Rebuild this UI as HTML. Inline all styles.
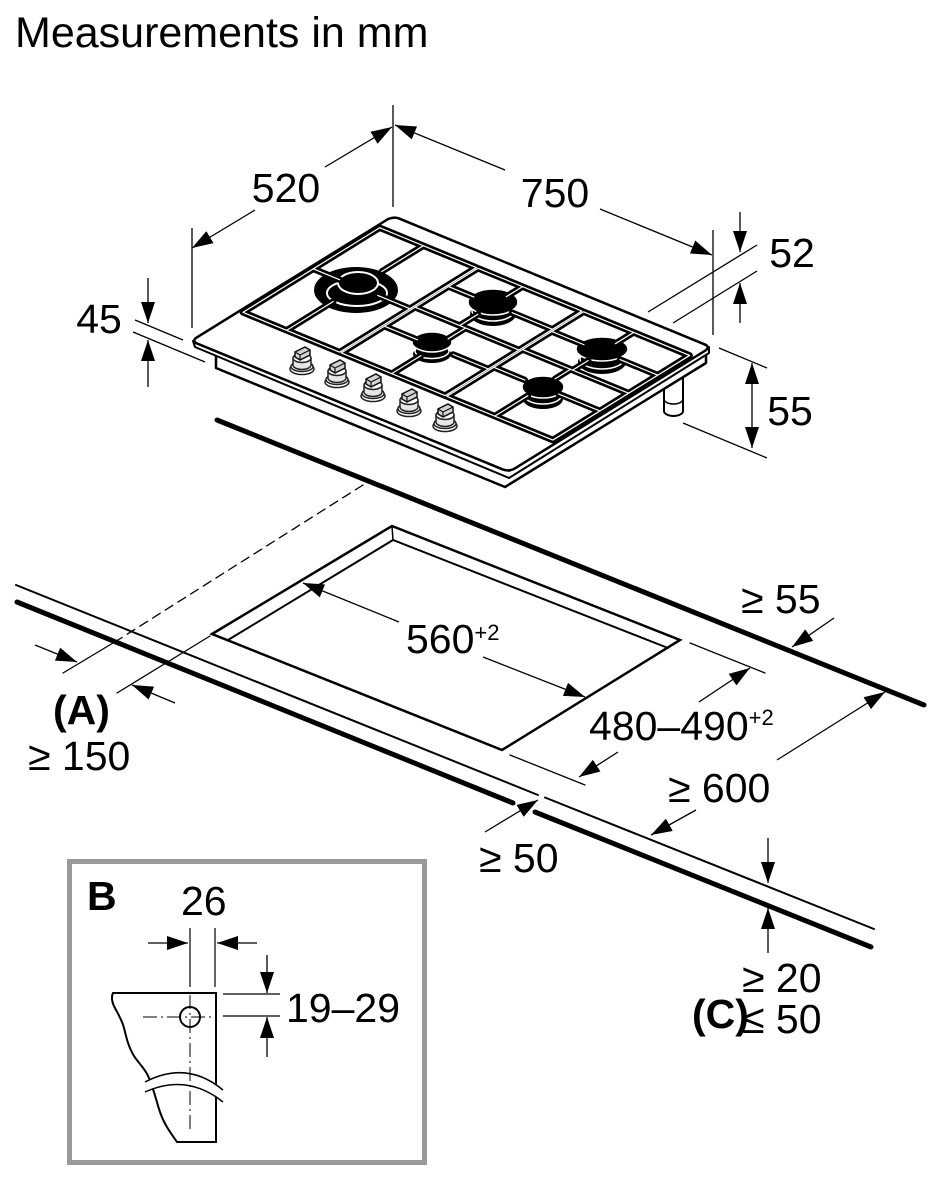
<!DOCTYPE html>
<html><head><meta charset="utf-8"><style>
html,body{margin:0;padding:0;background:#fff}
svg{display:block}
text{font-family:"Liberation Sans",Arial,sans-serif;fill:#000}
</style></head><body>
<svg width="935" height="1200" viewBox="0 0 935 1200" xmlns="http://www.w3.org/2000/svg">
<defs>
<marker id="a" markerUnits="userSpaceOnUse" markerWidth="22" markerHeight="14" refX="21" refY="7" orient="auto-start-reverse"><path d="M0,0 L21,7 L0,14 z" fill="#000"/></marker>
<g id="knob">
 <ellipse cx="0" cy="8" rx="12" ry="5.5" fill="#fff" stroke="#222" stroke-width="1.5"/>
 <ellipse cx="0" cy="5.5" rx="11" ry="5" fill="#fff" stroke="#222" stroke-width="1.5"/>
 <path d="M-9,-3 V4 A9,4.5 0 0 0 9,4 V-3" fill="#e6e6e6" stroke="#222" stroke-width="1.5"/>
 <ellipse cx="0" cy="-3" rx="9" ry="4.5" fill="#fff" stroke="#222" stroke-width="1.5"/>
 <path d="M-7,-4 L-7,-9 L3,-14 L8,-11 L8,-6 L-2,-1 Z" fill="#d4d4d4" stroke="#111" stroke-width="1.5"/>
 <path d="M-7,-9 L-2,-6 L8,-11 M-2,-6 V-1" fill="none" stroke="#111" stroke-width="1.2"/>
</g>
</defs>
<rect width="935" height="1200" fill="#fff"/>
<text x="15" y="47" font-size="43">Measurements in mm</text>

<!-- top dimensions -->
<g stroke="#000" stroke-width="1.3" fill="none">
 <line x1="393" y1="105" x2="393" y2="207"/>
 <line x1="192" y1="228" x2="192" y2="328"/>
 <line x1="325" y1="167" x2="392" y2="127" marker-end="url(#a)"/>
 <line x1="255" y1="210" x2="192" y2="248" marker-end="url(#a)"/>
 <line x1="505" y1="170" x2="395" y2="125" marker-end="url(#a)"/>
 <line x1="600" y1="209" x2="712" y2="255" marker-end="url(#a)"/>
 <line x1="713" y1="230" x2="713" y2="335"/>
 <line x1="740" y1="212" x2="740" y2="252" marker-end="url(#a)"/>
 <line x1="740" y1="323" x2="740" y2="283" marker-end="url(#a)"/>
 <line x1="648" y1="312" x2="757" y2="245"/>
 <line x1="673" y1="323" x2="757" y2="271"/>
 <line x1="148" y1="278" x2="148" y2="323" marker-end="url(#a)"/>
 <line x1="148" y1="387" x2="148" y2="340" marker-end="url(#a)"/>
 <line x1="135" y1="320" x2="183" y2="340"/>
 <line x1="133" y1="332" x2="205" y2="362"/>
 <line x1="719" y1="348" x2="767" y2="368"/>
 <line x1="683" y1="423" x2="767" y2="458"/>
 <line x1="752" y1="363" x2="752" y2="448" marker-start="url(#a)" marker-end="url(#a)"/>
</g>

<!-- hob -->
<path d="M664,370 L664,411 A9.5,5 0 0 0 683,411 L683,370" fill="#fff" stroke="#000" stroke-width="2"/>
<path d="M664,399 A9.5,5 0 0 0 683,399" fill="none" stroke="#000" stroke-width="1.5"/>
<polygon points="216,345 216,368 505,487 706,363 706,341 505,464" fill="#fff"/>
<polyline points="216,350 216,368 505,487 706,363 706,352" fill="none" stroke="#000" stroke-width="2.5" stroke-linejoin="round"/>
<polygon points="193,341 509,471 709,347 709,353 509,478 195,347" fill="#fff" stroke="#000" stroke-width="2" stroke-linejoin="round"/>
<g transform="matrix(0.424 0.1747 -0.3885 0.2404 393 216)">
 <rect x="0" y="0" width="750" height="520" rx="14" fill="#fff" stroke="#000" stroke-width="2.5" vector-effect="non-scaling-stroke"/>
</g>

<!-- burners -->
<g>
 <ellipse cx="356" cy="290" rx="42" ry="23" fill="#000"/>
 <ellipse cx="357" cy="293" rx="30" ry="13" fill="none" stroke="#fff" stroke-width="2"/>
 <ellipse cx="358" cy="283" rx="20" ry="11" fill="#000" stroke="#fff" stroke-width="2"/>
 <ellipse cx="493" cy="314" rx="23" ry="12" fill="#000"/>
 <ellipse cx="493" cy="311" rx="21" ry="10" fill="none" stroke="#fff" stroke-width="1.5"/>
 <ellipse cx="493" cy="302" rx="25" ry="13" fill="#000" stroke="#fff" stroke-width="1.5"/>
 <ellipse cx="432" cy="354" rx="19" ry="9" fill="#000"/>
 <ellipse cx="432" cy="351" rx="17" ry="7.5" fill="none" stroke="#fff" stroke-width="1.5"/>
 <ellipse cx="432" cy="342" rx="20" ry="10" fill="#000" stroke="#fff" stroke-width="1.5"/>
 <ellipse cx="602" cy="362" rx="24" ry="12" fill="#000"/>
 <ellipse cx="602" cy="359" rx="22" ry="10" fill="none" stroke="#fff" stroke-width="1.5"/>
 <ellipse cx="602" cy="349" rx="26" ry="12" fill="#000" stroke="#fff" stroke-width="1.5"/>
 <ellipse cx="543" cy="399" rx="20" ry="10" fill="#000"/>
 <ellipse cx="543" cy="396" rx="18" ry="8" fill="none" stroke="#fff" stroke-width="1.5"/>
 <ellipse cx="543" cy="387" rx="21" ry="11" fill="#000" stroke="#fff" stroke-width="1.5"/>
</g>

<!-- grates -->
<g transform="matrix(0.424 0.1747 -0.3885 0.2404 393 216)" fill="none" stroke-linecap="round" stroke-linejoin="round">
 <path vector-effect="non-scaling-stroke" stroke="#000" stroke-width="6.5" d="M8,43 H236 V395 H8 Z M240,43 H485 V395 H240 Z M240,205 H485 M489,43 H739 V395 H489 Z M489,200 H739 M8,214 H70 M236,214 H160 M111,43 V150 M111,395 V275 M240,119 H300 M485,119 H390 M345,43 V85 M345,205 V158 M240,284 H318 M485,284 H402 M359,205 V250 M359,395 V320 M489,125 H565 M739,125 H650 M607,43 V90 M607,200 V160 M489,274 H562 M739,274 H642 M602,200 V240 M602,395 V310"/>
 <path vector-effect="non-scaling-stroke" stroke="#fff" stroke-width="1.2" d="M8,43 H236 V395 H8 Z M240,43 H485 V395 H240 Z M240,205 H485 M489,43 H739 V395 H489 Z M489,200 H739 M8,214 H70 M236,214 H160 M111,43 V150 M111,395 V275 M240,119 H300 M485,119 H390 M345,43 V85 M345,205 V158 M240,284 H318 M485,284 H402 M359,205 V250 M359,395 V320 M489,125 H565 M739,125 H650 M607,43 V90 M607,200 V160 M489,274 H562 M739,274 H642 M602,200 V240 M602,395 V310"/>
</g>

<!-- knobs -->
<use href="#knob" x="302" y="361"/>
<use href="#knob" x="337" y="374"/>
<use href="#knob" x="373" y="388"/>
<use href="#knob" x="409" y="403"/>
<use href="#knob" x="445" y="418"/>

<!-- countertop -->
<g fill="none" stroke="#000" stroke-linecap="round">
 <line x1="217" y1="420" x2="924" y2="705" stroke-width="5"/>
 <line x1="363" y1="485" x2="118" y2="640" stroke-width="1.3" stroke-dasharray="9 6"/>
 <line x1="118" y1="640" x2="63" y2="673" stroke-width="1.3"/>
 <line x1="210" y1="636" x2="117" y2="693" stroke-width="1.3"/>
 <path d="M16,585 L538,795 M545,797.5 L874,929" stroke-width="2"/>
 <path d="M17,602 L513,803 M535,812 L871,947" stroke-width="5"/>
 <polygon points="212,634 392,526 680,640 502,750" stroke-width="2.5" stroke-linejoin="miter"/>
 <polyline points="228,640 393,540 668,648" stroke-width="2"/>
 <line x1="392" y1="526" x2="393" y2="540" stroke-width="1.5"/>
 <line x1="690" y1="643" x2="765" y2="673" stroke-width="1.3"/>
 <line x1="510" y1="755" x2="585" y2="785" stroke-width="1.3"/>
</g>
<g fill="none" stroke="#000" stroke-width="1.3">
 <line x1="399" y1="622" x2="303" y2="583" marker-end="url(#a)"/>
 <line x1="483" y1="657" x2="585" y2="697" marker-end="url(#a)"/>
 <line x1="699" y1="702" x2="750" y2="668" marker-end="url(#a)"/>
 <line x1="618" y1="752" x2="579" y2="777" marker-end="url(#a)"/>
 <line x1="834" y1="618" x2="792" y2="647" marker-end="url(#a)"/>
 <line x1="777" y1="760" x2="885" y2="692" marker-end="url(#a)"/>
 <line x1="696" y1="810" x2="651" y2="835" marker-end="url(#a)"/>
 <line x1="485" y1="832" x2="538" y2="800" marker-end="url(#a)"/>
 <line x1="35" y1="645" x2="77" y2="662" marker-end="url(#a)"/>
 <line x1="175" y1="703" x2="132" y2="685" marker-end="url(#a)"/>
 <line x1="768" y1="838" x2="768" y2="883" marker-end="url(#a)"/>
 <line x1="768" y1="953" x2="768" y2="908" marker-end="url(#a)"/>
</g>

<!-- B box -->
<rect x="69.5" y="861.5" width="355" height="301" fill="none" stroke="#999" stroke-width="5"/>
<path d="M113,993 L216,993 L216,1142 L177,1142 C170,1132 164,1124 160,1112 C156,1100 154,1090 149,1078 C145,1068 139,1064 134,1056 C128,1046 126,1036 124,1028 C122,1020 118,1014 115,1008 C112,1003 111,997 113,993 Z" fill="#fff" stroke="#000" stroke-width="2"/>
<path d="M143,1082 Q187,1060 225,1090 L225,1102 Q187,1073 143,1092 Z" fill="#fff"/>
<path d="M145,1082 Q187,1060 223,1090 M145,1092 Q187,1073 223,1102" fill="none" stroke="#000" stroke-width="1.5"/>
<g fill="none" stroke="#000">
 <line x1="190" y1="928" x2="190" y2="987" stroke-width="1.2"/>
 <line x1="190" y1="995" x2="190" y2="1132" stroke-width="1" stroke-dasharray="14 4 2 4"/>
 <line x1="215" y1="928" x2="215" y2="987" stroke-width="1.2"/>
 <line x1="143" y1="1017" x2="213" y2="1017" stroke-width="1" stroke-dasharray="14 4 2 4"/>
 <circle cx="190" cy="1017" r="10" stroke-width="2"/>
 <line x1="223" y1="994" x2="280" y2="994" stroke-width="1.2"/>
 <line x1="223" y1="1016" x2="280" y2="1016" stroke-width="1.2"/>
 <line x1="148" y1="943" x2="188" y2="943" stroke-width="1.3" marker-end="url(#a)"/>
 <line x1="257" y1="943" x2="217" y2="943" stroke-width="1.3" marker-end="url(#a)"/>
 <line x1="267" y1="955" x2="267" y2="993" stroke-width="1.3" marker-end="url(#a)"/>
 <line x1="267" y1="1057" x2="267" y2="1017" stroke-width="1.3" marker-end="url(#a)"/>
</g>

<!-- labels -->
<g font-size="41">
 <text x="286" y="202" text-anchor="middle">520</text>
 <text x="555" y="207" text-anchor="middle">750</text>
 <text x="792" y="267" text-anchor="middle">52</text>
 <text x="99" y="333" text-anchor="middle">45</text>
 <text x="790" y="425" text-anchor="middle">55</text>
 <text x="741" y="613">≥ 55</text>
 <text x="406" y="653">560<tspan font-size="22" dy="-13">+2</tspan></text>
 <text x="589" y="740">480–490<tspan font-size="22" dy="-15">+2</tspan></text>
 <text x="668" y="802">≥ 600</text>
 <text x="479" y="872">≥ 50</text>
 <text x="53" y="724" font-weight="bold">(A)</text>
 <text x="28" y="770">≥ 150</text>
 <text x="87" y="910" font-weight="bold">B</text>
 <text x="181" y="915">26</text>
 <text x="286" y="1022">19–29</text>
 <text x="742" y="992">≥ 20</text>
 <text x="742" y="1033">≤ 50</text>
 <text x="692" y="1028" font-weight="bold">(C)</text>
</g>
</svg>
</body></html>
